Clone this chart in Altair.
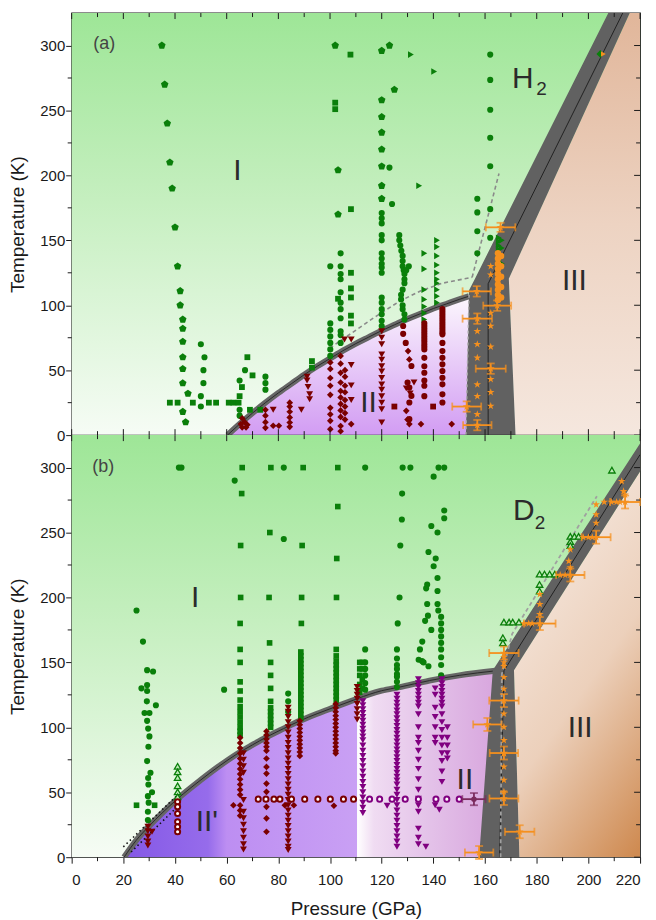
import altair as alt
import pandas as pd

# ---------------- axes / ticks ----------------
XMAX, YMAX = 220, 325
X_MAJOR = list(range(0, 221, 20))
X_MINOR = list(range(10, 220, 20))
Y_MAJOR = list(range(0, 301, 50))
Y_MINOR = list(range(25, 300, 50))

def column(p, ts):
    return [(p, t) for t in ts]

# ---------------- panel (a) H2 data ----------------
A_PENT = [(34.9,300),(36.0,270),(37.0,240),(38.0,210),(38.9,190),(40.0,160),(41.0,130),(42.0,111),(42.0,100),
          (43.0,89),(43.0,82),(43.0,72),(43.0,60),(43.0,51),(43.0,40),(45.0,32),(43.0,18),(44.1,10),
          (102.0,300),(120.0,296),(123.0,300),(124.9,266),(103.1,204),(103.1,170),
          (120.0,258),(120.0,245),(120.0,233),(120.0,220),(120.0,207),(120.0,192),(120.0,182)]
A_CIRC = ([(50.0,70),(51.4,60),(51.0,50),(51.0,40),(50.0,30),(50.0,22),(65.0,42),(65.0,19.5),(65.0,15),(67.1,50),
           (75.0,45),(75.0,40),(75.0,35),(123.0,206),(124.0,178),
           (162.0,293),(162.0,273.5),(162.0,250.5),(162.0,229),(162.0,207),(162.0,174),(162.0,152),
           (157.0,182),(157.0,171.5),(157.0,157),(157.0,140)]
          + column(120.0,[171,167,163,154,150,140,136,132,129,125,106,102,97,93,88,84])
          + column(104.1,[140,130,124,120,110,102,97,90,80,77,71])
          + column(100.1,[130,86,81,76,71,66,61])
          + [(126.8,154),(126.8,150),(127.2,146),(127.6,142),(128.1,138),(128.1,134),(128.1,130),(128.5,127),
             (128.8,124),(128.8,120),(128.8,117),(128.1,112),(127.5,108),(127.5,104.5),(128.1,100),(128.1,97),
             (128.8,93),(128.8,89),(130.5,130),(129.5,127)])
A_SQ = [(38.0,25),(41.0,25),(46.9,25),(53.1,25),(55.9,25),(60.8,25),(62.6,25),(64.6,25),(68.0,60),(70.0,46),
        (65.9,37),(65.0,30),(69.0,19.5),(73.0,19.5),(93.0,57),(93.0,52),(107.9,293),(102.0,256),(102.0,251),
        (108.1,174),(108.1,125),(108.1,113),(108.1,106),(108.1,92),(108.1,86),(103.1,105)]
A_TRI_R = ([(131.3,293),(140.3,280),(134.5,192),(136.5,140),(136.5,128),(136.5,112),(136.5,104.5),(136.5,99),
            (136.5,94),(136.5,89)]
           + column(141.4,[150,145,138,131,125,120,117,112,107,102])
           + column(165.3,[152,149,146,143,140,137,134,131,128])
           + column(166.5,[150,144,138,132]))
A_RED_DIA = ([(66,13),(67,10),(66,6),(67.5,6),(65.5,8.5),(68,8),(75,19.5),(75,15),(75,10),(75,5.6),(78,7.2),(80.2,7.2)]
             + column(84.4,[25,22,18,13.6,9.7,6.4])
             + column(100.1,[56,51,44,38,31,21,16,11,4.6])
             + column(104.1,[61,55,48,40.5,34,29,24,19,14,7,3])
             + column(105.8,[50,45,38,33,27,22,17,12])
             + [(108.2,8.5),(135.2,8.5),(147.1,8.5),(130.7,8.5),(130.0,12),(129.5,18.7),(130.2,64.7),(130.7,58.3)])
A_RED_TRI = ([(78,19.5),(88.9,19.5),(91.1,45),(91.1,42),(91.5,37),(92.1,31.5),(92.1,27.6),(105.6,73.6),(108.2,73.6),
              (108.2,54),(108.2,38.3),(108.2,27)]
             + column(120.0,[80,75,70,62,58,53,49,44,39,35,30,25,20,9.7])
             + [(129.5,36),(132.5,40.5),(131,32)])
A_RED_CIRC = ([(128.3,84),(128.3,78),(129.3,71),(131.5,53.2),(130,40.5),(130.7,36.6),(131.5,30.2),(130.7,25.1),(130.7,12.3)]
              + column(136.5,[86,84,82,80,78,76,74,72,70,68,66,59.5,53,48,42,38,30])
              + column(143.5,[97,95,93,91,89,87,85,83,81,79,77.6,71,64.7,59.5,54.5,49.4,44.2,39.1,31.4,25.1]))
A_RED_SQ = [(124.9,22),(139.9,22)]
A_ERR_P = [166.0,156.8,164.7,157.0,162.2,152.9,157.0]
A_ERR_T = [160,110.7,99.7,89.7,51.2,22,7.7]
A_ERR_XE = [5.7,5.5,5.4,5.7,5.8,5.6,5.5]
A_ERR_YE = [3.5,4,4,4,4,4,4]
A_STAR = (column(157.0,[80,70,59.5,39,30,16]) + column(162.2,[130,123.5,94,84,68,43,33,22.5]))
A_OR_CIRC = column(165.0,[140,136,132,128,124,120,116,112,108,104]) + column(166.2,[138,130,122,114,106])
A_GREEN_DIA = [(204.6,293.5)]
A_OR_TRI = [(205.8,293.5)]

# boundaries panel (a)
A_CURVE = [(60.3,0),(65,8.5),(70,17),(75,25),(80,32.5),(85,39.5),(90,46.5),(95,53),(100,59),(105,65),(110,70.5),
           (115,75.5),(120,80.5),(125,85),(130,89.5),(135,93.5),(140,97.5),(145,101),(150,104.5),(153.8,107)]
A_BAND_T = [0,111.5,120.5,325]
A_BAND_L = [152.6,153.8,156.1,207.7]
A_BAND_R = [171.8,169.4,169.2,216.0]
A_CENTER = [(161.2,0),(161.2,116.6),(213.3,325)]
A_DASH1 = [(99.9,67),(117.8,91.5),(126.8,103),(135,111),(143.5,117),(155,121.5)]
A_DASH2 = [(155,121.5),(165.4,201.5)]
A_DASH_EDGE = [(152.6,0),(153.8,108)]

# ---------------- panel (b) D2 data ----------------
B_CIRC = ([(25.1,190),(27.6,166),(29.2,144),(31.5,143),(27.0,130),(29.2,132.6),(29.2,128),(32.6,117),(29.1,120),
           (28.2,111),(30.1,111),(29.2,105),(29.6,99),(30.1,93),(29.7,85),(29.2,74),(30.5,65),(29.6,61),(29.7,56),
           (31.1,50),(29.5,47),(29.8,42),(29.5,35),(29.5,28.6),
           (41.5,300),(42.5,300),(63.1,290),(82.1,300),(82.1,245),(113.6,300),(59.0,129),
           (83.8,126),(83.8,120),(83.8,112),
           (128.1,300),(131.1,300),(142.0,300),(144.2,300),(140.1,293),
           (127.9,280),(127.8,260),(127.2,240),(126.9,200),(126.2,180),(125.9,160),
           (144.2,267),(144.2,261),(139.2,255),(141.6,250),(138.1,235),(140.9,230),(140.1,224),(141.6,215),
           (141.6,205),(137.6,210),(137.2,207),(141.6,195),(141.9,190),(137.6,195),(137.9,186),(136.8,182),
           (139.2,175),(135.7,166),(134.8,160),(134.3,152),(135.6,151),(136.2,150),(138.1,147)]
          + column(113.6,[160,150,145,140,134,129])
          + column(125.9,[153,148,145,141,139,135,131])
          + column(143.0,[185,180,175,170,165,160,154,148,140]))
B_SQ = ([(25.1,40),(32.1,40),(66.0,300),(65.8,280),(65.4,240),(65.4,200),(65.2,180),(65.2,160),(65.2,150)]
        + column(65.2,[135,128,121,116,112,108,104,100,97,94])
        + [(77.1,300),(76.7,250),(76.4,200),(76.6,165),(77.0,150),(77.0,140)]
        + column(77.0,[130,120,115,112,109,106,103,100])
        + [(89.6,300),(89.2,240),(89.0,200),(88.9,180)]
        + column(88.7,[158,155,152,149,146,143,140,137,134,131,128,125,122,119,116,113,110,107])
        + [(103.0,300),(103.0,270),(102.6,230),(102.5,200),(102.4,160),(102.4,155)]
        + column(102.4,[151,148,145,142,139,136,133,130,127,124,121])
        + [(111.5,150),(112.5,150),(111.5,145),(112.5,145),(111.5,140),(112.5,137),(111.5,133),(112.5,130),(111.5,127)])
B_TRI_HOLLOW = [(41,70),(41,65.7),(41,61.3),(41,55),(41,50.3),(41,46.5),(209.1,298),(193.0,247),(194.6,247),
                (196.2,247),(193.0,243),(193.0,240),(181.1,218),(183.0,218),(185.0,218),(187.0,218),(181.1,210),
                (181.1,205),(167.3,181),(169.3,181),(170.7,181),(173.1,181),(166.9,169),(166.9,165)]
B_RED_DIA = (column(65.2,[92,88,84,80,76,72,68,64,60,56,52,48,40,36,32])
             + column(75.4,[97,94,91,88,85,82,76,69.5,64.4,56.7,50.3,38.8,29.9,19.6])
             + [(62.6,40),(101.5,39.6),(82.5,40),(86.0,40)]
             + column(88.3,[105,102,99,96,93,90,87,84,81,78])
             + column(102.2,[118,115,112,109,106,103,100,97,94,91,88,85,82,80]))
B_RED_TRI = (column(66.5,[80,75,70,65,44,35,30,25,20,15,10,6])
             + column(83.8,[115,112,108,104,100,96,92,88,84,80,76,72,68,64,60,56,52,48,44,40,36,32,28,24,20,16,12,8,5.6])
             + column(29.5,[23.5,20,16,12,9]) + [(31.1,19.6)]
             + column(110.5,[131,128,125,122,118,114,110,106]))
B_RED_HOLLOW = (column(41.0,[42.6,38.8,33.7,27.3,23.5,19.6])
                + [(72.2,44.7),(75.2,44.7),(78.3,44.7),(80.6,44.7),(85.1,44.7),(90.2,44.7),(95.3,44.7),
                   (100.1,44.7),(105.2,44.7),(109.1,44.7)])
B_PUR_HOLLOW = [(115.3,44.7),(119.2,44.7),(124.0,44.7),(129.1,44.7),(134.2,44.7),(141.0,44.7),(145.2,44.7),(150.0,44.7)]
B_PUR_TRI = (column(112.7,[120,117,114,111,108,105,102,99,96,93,90,86,82,78,74,70,66,62,58,54,50,46,42,38,34])
             + column(125.9,[125,122,119,116,113,110,107,104,101,98,95,92,89,86,83,80,77,74,71,68,65,62,59,56,52,
                             48,44,40,36,32,28,24,20,16,12,8])
             + column(134.2,[137,134,131,128,125,122,119,116,110,100,92,88,82,75,68,60,52,45,40,35,22,15,10])
             + column(140.7,[130,125,115,108,100,92,88])
             + column(143.3,[137,134,131,128,125,122,119,116,110,104,98,92,86,80,74,66,58])
             + column(145.4,[100,92,86,80,76])
             + [(122.1,39.6),(137.1,8),(142.3,36.6),(140.7,40)])
B_PERR_P, B_PERR_T, B_PERR_XE, B_PERR_YE = [155.7], [44.7], [4.5], [4.7]
B_ERR_P = [167.3,181.2,193.0,203.0,214.2,167.3,160.9,167.3,167.3,173.4,157.7]
B_ERR_T = [157.2,179.9,217.3,246.4,273.5,120.6,102.2,80.2,45.2,19.6,3.6]
B_ERR_XE = [5.7,6.1,5.5,5.6,5.8,5.7,5.5,5.5,5.6,5.7,5.5]
B_ERR_YE = [5,5,5,5,5,5,5,5,5,5,5]
B_STAR = (column(167.3,[154,150,147,138.5,129.6,110.4,100.2,90,79.8,69.6,59.4,50.4])
          + [(181.2,202.5),(181.2,194.8),(181.2,187),(192.4,228),(193,223),(193,237),(203,263.8),(203,257.4),
             (203,271.5),(206.1,273.5),(208.9,273.5),(210.9,273.5),(212.2,273.5),(213.6,281.7),(212.9,289.4),
             (214.2,279),(198,246.4),(200,246.4),(201.5,246.4),(175,179.9),(176.9,179.9),(178.2,179.9),
             (189.1,217.3),(191,217.3)])

# boundaries panel (b)
B_CURVE_1 = [(20.3,0),(25,13),(30,24),(35,34),(41,45),(50,59.5),(57,70),(64,79.5),(70,86.5),(75.4,92.5),(82,99),
             (88.3,105),(95,110.5),(101,115),(110.5,122)]
B_CURVE_2 = [(110.5,122),(115.4,125.5),(120,128.2),(127,131),(138.5,136),(150,140),(164,143.5)]
B_BAND_T = [0,144,325]
B_BAND_L = [157.7,163.0,222.1]
B_BAND_R = [173.3,171.2,228.9]
B_CENTER = [(165.6,0),(167.3,143.5),(220,310)]
B_DASH = [(166,0),(166.5,141),(170.5,172),(203.3,278)]
B_DOT1 = [(20,8),(40.5,47)]
B_DOT2 = [(23,4),(42,41)]

A_LABELS = [("I",64.1,203.4),("II",114.9,24.5),("III",194.6,118.4),("H",174.6,274.3)]
A_SUB = [("2",181.8,266.6)]
A_TAG = [("(a)",8.4,301)]
B_LABELS = [("I",47.8,199.2),("II'",52.3,26.7),("II",152.2,59.3),("III",196.8,99.3),("D",175.0,266.9)]
B_SUB = [("2",181.3,257.4)]
B_TAG = [("(b)",8.0,300.8)]

# ---------------- styles ----------------
W, H = 571, 424
FONT = "Liberation Sans"
GREEN, RED, PURPLE, ORANGE = "#0a7f0a", "#7a0000", "#800080", "#f5901e"
TICK = "#1a1a1a"
PENT = "M0,-1L0.951,-0.309L0.588,0.809L-0.588,0.809L-0.951,-0.309Z"
STAR = "M0,-1L0.225,-0.309L0.951,-0.309L0.363,0.118L0.588,0.809L0,0.382L-0.588,0.809L-0.363,0.118L-0.951,-0.309L-0.225,-0.309Z"

def grad(stops, x1=0, y1=0, x2=0, y2=1):
    return alt.LinearGradient(gradient="linear", x1=x1, y1=y1, x2=x2, y2=y2,
                              stops=[alt.GradientStop(offset=o, color=c) for o, c in stops])

G_GREEN = grad([(0, "#9ee697"), (0.45, "#c6efc0"), (1, "#f6fcf5")])
G_II_A = grad([(0, "#fcf7fd"), (1, "#d29cf3")])
G_III_A = grad([(0, "#e1b69a"), (0.5, "#edd3c2"), (1, "#f5e7de")])
G_IIP_B = grad([(0, "#8458e6"), (0.36, "#966ceb"), (0.44, "#bd8ef2"), (1, "#c9a0f4")], x1=0, y1=0, x2=1, y2=0)
G_II_B = grad([(0, "#ffffff"), (0.12, "#f0dcf2"), (0.5, "#e4c3e9"), (1, "#d8a6de")], x1=0, y1=0, x2=1, y2=0)
G_III_B = grad([(0, "#f8eee8"), (0.55, "#ecd0bb"), (1, "#cf8b52")], x1=0.3, y1=0, x2=0.8, y2=1)
BAND = "#616161"

XS = alt.Scale(domain=[0, XMAX], nice=False, zero=False)
YS = alt.Scale(domain=[0, YMAX], nice=False, zero=False)
YAXIS = alt.Axis(values=Y_MAJOR, tickSize=6, labelPadding=1, titlePadding=12, title="Temperature (K)")
XAXIS = alt.Axis(values=X_MAJOR, tickSize=6, labelPadding=9, titlePadding=13, title="Pressure (GPa)")


def build(show_x, d):
    xaxis = XAXIS if show_x else None

    def X(f):
        return alt.X(f, type="quantitative", scale=XS, axis=xaxis)

    def Y(f):
        return alt.Y(f, type="quantitative", scale=YS, axis=YAXIS)

    def pdf(pairs):
        df = pd.DataFrame(pairs, columns=["P", "T"])
        df["i"] = range(len(df))
        return df

    def sym(pairs, shape, size, **kw):
        return alt.Chart(pdf(pairs)).mark_point(shape=shape, size=size, opacity=1, **kw).encode(x=X("P"), y=Y("T"))

    def line(pairs, color, width, dash=None, interp="linear"):
        kw = dict(color=color, strokeWidth=width, interpolate=interp, clip=True)
        if dash:
            kw["strokeDash"] = dash
        return alt.Chart(pdf(pairs)).mark_line(**kw).encode(x=X("P"), y=Y("T"), order="i:Q")

    def under(pairs, g):
        return alt.Chart(pdf(pairs)).mark_area(color=g, interpolate="monotone", clip=True, opacity=1).encode(
            x=X("P"), y=Y("T"))

    def hband(T, L, R, fill):
        df = pd.DataFrame({"T": T, "L": L, "R": R})
        return alt.Chart(df).mark_area(orient="horizontal", color=fill, clip=True, opacity=1).encode(
            y=Y("T"), x=X("L"), x2="R")

    def errs(P, T, xe, ye, color, star):
        df = pd.DataFrame({"P": P, "T": T, "xe": xe, "ye": ye})
        base = alt.Chart(df).transform_calculate(
            lo="datum.P - datum.xe", hi="datum.P + datum.xe",
            blo="datum.T - datum.ye", bhi="datum.T + datum.ye")
        out = [
            base.mark_rule(color=color, strokeWidth=1.8).encode(x=X("lo"), x2="hi", y=Y("T")),
            base.mark_rule(color=color, strokeWidth=1.8).encode(x=X("P"), y=Y("blo"), y2="bhi"),
            base.transform_fold(["lo", "hi"], as_=["k", "v"]).mark_tick(
                orient="vertical", size=8, thickness=1.8, color=color).encode(x=X("v"), y=Y("T")),
            base.transform_fold(["blo", "bhi"], as_=["k", "v"]).mark_tick(
                orient="horizontal", size=8, thickness=1.8, color=color).encode(x=X("P"), y=Y("v")),
        ]
        if star:
            out.append(base.mark_point(shape=STAR, size=70, filled=True, color=color, opacity=1).encode(
                x=X("P"), y=Y("T")))
        else:
            out.append(base.mark_point(shape="circle", size=30, filled=True, color=color, opacity=1).encode(
                x=X("P"), y=Y("T")))
        return out

    def texts(items, size, color="#2b2b2b", align="center"):
        df = pd.DataFrame(items, columns=["L", "P", "T"])
        return alt.Chart(df).mark_text(font=FONT, fontSize=size, color=color, align=align,
                                       baseline="middle").encode(x=X("P"), y=Y("T"), text="L:N")

    def xt(vals, y0, y1):
        return alt.Chart(pd.DataFrame({"v": vals})).mark_rule(color=TICK, strokeWidth=1).encode(
            x=X("v"), y=alt.value(y0), y2=alt.value(y1))

    def yt(vals, x0, x1):
        return alt.Chart(pd.DataFrame({"v": vals})).mark_rule(color=TICK, strokeWidth=1).encode(
            y=Y("v"), x=alt.value(x0), x2=alt.value(x1))

    bgdf = pd.DataFrame({"x0": [0], "x1": [XMAX], "y0": [0], "y1": [YMAX]})
    layers = [alt.Chart(bgdf).mark_rect(color=G_GREEN).encode(x=X("x0"), x2="x1", y=Y("y0"), y2="y1")]
    layers += d(X, Y, sym, line, under, hband, errs, texts)
    # ticks
    layers += [xt(X_MAJOR, 0, 6), xt(X_MINOR, 0, 4), yt(Y_MAJOR, W, W - 6), yt(Y_MINOR, W, W - 4),
               yt(Y_MINOR, 0, -4)]
    if show_x:
        layers += [xt(X_MINOR, H, H + 4)]
    else:
        layers += [xt(X_MAJOR, H, H - 6), xt(X_MINOR, H, H - 4)]
    return alt.layer(*layers).properties(width=W, height=H)


def panel_a(X, Y, sym, line, under, hband, errs, texts):
    L = []
    L.append(under(A_CURVE, G_II_A))
    L.append(hband(A_BAND_T, A_BAND_R, [XMAX] * len(A_BAND_T), G_III_A))
    L.append(line(A_DASH1, "#8a8a8a", 1.6, [4, 3]))
    L.append(line(A_DASH2, "#8a8a8a", 1.6, [4, 3]))
    L.append(line(A_CURVE, "#666666", 6, interp="monotone"))
    L.append(line(A_CURVE, "#2a2a2a", 1, interp="monotone"))
    L.append(hband(A_BAND_T, A_BAND_L, A_BAND_R, BAND))
    L.append(line(A_CENTER, "#222222", 1))
    L.append(line(A_DASH_EDGE, "#a8a8a8", 1.4, [3, 3]))
    L.append(sym(A_PENT, PENT, 62, filled=True, color=GREEN))
    L.append(sym(A_CIRC, "circle", 38, filled=True, color=GREEN))
    L.append(sym(A_SQ, "square", 34, filled=True, color=GREEN))
    L.append(sym(A_TRI_R, "triangle-right", 45, filled=True, color=GREEN))
    L.append(sym(A_RED_DIA, "diamond", 45, filled=True, color=RED))
    L.append(sym(A_RED_TRI, "triangle-down", 48, filled=True, color=RED))
    L.append(sym(A_RED_CIRC, "circle", 38, filled=True, color=RED))
    L.append(sym(A_RED_SQ, "square", 34, filled=True, color=RED))
    L.append(sym(A_STAR, STAR, 65, filled=True, color=ORANGE))
    L.append(sym(A_OR_CIRC, "circle", 42, filled=True, color=ORANGE))
    L += errs(A_ERR_P, A_ERR_T, A_ERR_XE, A_ERR_YE, ORANGE, True)
    L.append(sym(A_GREEN_DIA, "diamond", 60, filled=True, color=GREEN))
    L.append(sym(A_OR_TRI, "triangle-right", 30, filled=True, color=ORANGE))
    L.append(texts(A_LABELS, 30))
    L.append(texts(A_SUB, 19))
    L.append(texts(A_TAG, 18, color="#444444", align="left"))
    return L


def panel_b(X, Y, sym, line, under, hband, errs, texts):
    L = []
    L.append(under(B_CURVE_1, G_IIP_B))
    L.append(under(B_CURVE_2, G_II_B))
    L.append(hband(B_BAND_T, B_BAND_R, [XMAX] * len(B_BAND_T), G_III_B))
    L.append(line(B_CURVE_1 + B_CURVE_2[1:], "#666666", 6, interp="monotone"))
    L.append(line(B_CURVE_1 + B_CURVE_2[1:], "#2a2a2a", 1, interp="monotone"))
    L.append(line(B_DOT1, "#111111", 1.6, [1.5, 3]))
    L.append(line(B_DOT2, "#111111", 1.6, [1.5, 3]))
    L.append(hband(B_BAND_T, B_BAND_L, B_BAND_R, BAND))
    L.append(line(B_CENTER, "#222222", 1))
    L.append(line(B_DASH, "#a0a0a0", 1.8, [4, 3]))
    L.append(sym(B_CIRC, "circle", 38, filled=True, color=GREEN))
    L.append(sym(B_SQ, "square", 32, filled=True, color=GREEN))
    L.append(sym(B_TRI_HOLLOW, "triangle-up", 42, filled=True, fill="#bfeab8", stroke=GREEN, strokeWidth=1.3))
    L.append(sym(B_RED_DIA, "diamond", 45, filled=True, color=RED))
    L.append(sym(B_RED_TRI, "triangle-down", 48, filled=True, color=RED))
    L.append(sym(B_PUR_TRI, "triangle-down", 48, filled=True, color=PURPLE))
    L.append(sym(B_RED_HOLLOW, "circle", 26, filled=True, fill="#ffffff", stroke=RED, strokeWidth=2))
    L.append(sym(B_PUR_HOLLOW, "circle", 26, filled=True, fill="#ffffff", stroke=PURPLE, strokeWidth=2))
    L += errs(B_PERR_P, B_PERR_T, B_PERR_XE, B_PERR_YE, "#7a2a5c", False)
    L.append(sym(B_STAR, STAR, 65, filled=True, color=ORANGE))
    L += errs(B_ERR_P, B_ERR_T, B_ERR_XE, B_ERR_YE, ORANGE, True)
    L.append(texts(B_LABELS, 30))
    L.append(texts(B_SUB, 19))
    L.append(texts(B_TAG, 18, color="#444444", align="left"))
    return L


top = build(False, panel_a)
bottom = build(True, panel_b)

chart = alt.vconcat(top, bottom, spacing=0, bounds="flush").properties(
    padding={"left": 8, "top": 9, "right": 14, "bottom": 2},
    background="#ffffff",
).configure_view(stroke="#1a1a1a", strokeWidth=1.3).configure_axis(
    labelFont=FONT, titleFont=FONT, labelFontSize=15, titleFontSize=19, titleFontWeight="normal",
    labelColor="#1a1a1a", titleColor="#1a1a1a", tickColor=TICK, domain=False, grid=False,
)

chart.save("out.html", embed_options={"renderer": "svg", "actions": False})
